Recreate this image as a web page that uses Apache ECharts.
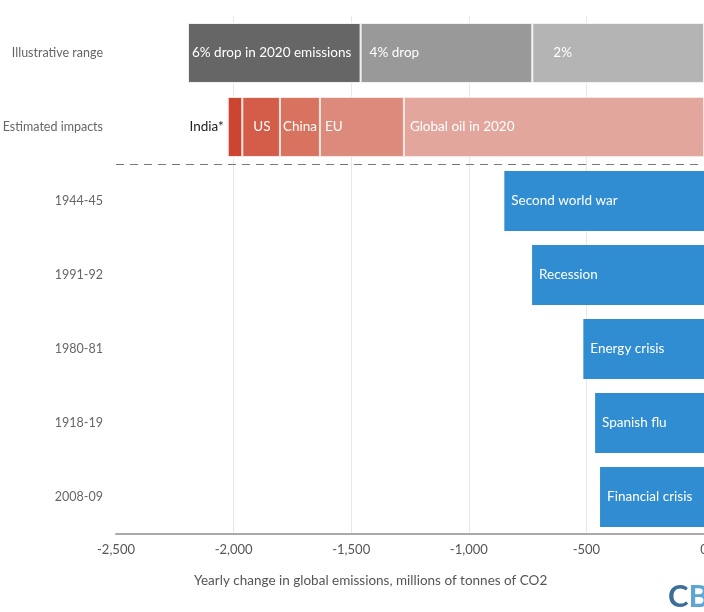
<!DOCTYPE html>
<html>
<head>
<meta charset="utf-8">
<script src="https://cdn.jsdelivr.net/npm/echarts@6/dist/echarts.min.js"></script>
<style>html,body{margin:0;padding:0;background:#fff}#c{width:704px;height:612px}</style>
</head>
<body>
<div id="c"></div>
<script>
// ---- data ----
var categories = ['Illustrative range', 'Estimated impacts', '1944-45', '1991-92', '1980-81', '1918-19', '2008-09'];
var rangeNames = ['2%', '4% drop', '6% drop in 2020 emissions'];
var rangeValues = [-730, -730, -734];            // stacked segments, Illustrative range row
var impactNames = ['Global oil in 2020', 'EU', 'China', 'US', 'India*'];
var impactValues = [-1276, -357, -170, -160, -62]; // stacked segments, Estimated impacts row
var eventNames = ['Second world war', 'Recession', 'Energy crisis', 'Spanish flu', 'Financial crisis'];
var eventValues = [-849, -731, -513, -463, -442];
var xTicks = [-2500, -2000, -1500, -1000, -500, 0];

// ---- styles ----
var FONT = "Lato, 'Open Sans', sans-serif";
var rangeColors = ['#b4b4b4', '#999999', '#666666'];
var rangeLabelDist = [21, 9, 4];
var impactColors = ['#e3a69c', '#dc8a7c', '#d8735f', '#d35d48', '#cc4530'];
var impactLabelDist = [6, 5, 3, 11, 0];
var blue = '#318dd1';
var LABEL_SIZE = 13.5;

function rowData(rowIndex, value) {
  return categories.map(function (c, i) { return i === rowIndex ? value : '-'; });
}

var series = [];
rangeValues.forEach(function (v, k) {
  series.push({
    type: 'bar', stack: 'main', name: rangeNames[k],
    data: rowData(0, v),
    barCategoryGap: '19%',
    itemStyle: { color: rangeColors[k], borderColor: '#f2f2f2', borderWidth: 1 },
    label: { show: true, position: 'insideLeft', distance: rangeLabelDist[k], formatter: rangeNames[k],
      color: '#fff', fontFamily: FONT, fontSize: LABEL_SIZE },
    emphasis: { disabled: true }
  });
});
impactValues.forEach(function (v, k) {
  var isIndia = impactNames[k] === 'India*';
  series.push({
    type: 'bar', stack: 'main', name: impactNames[k],
    data: rowData(1, v),
    barCategoryGap: '19%',
    itemStyle: { color: impactColors[k], borderColor: '#f6e6e2', borderWidth: 1 },
    label: isIndia ?
      { show: true, position: 'left', distance: 4, formatter: 'India*', color: '#222', fontFamily: FONT, fontSize: LABEL_SIZE } :
      { show: true, position: 'insideLeft', distance: impactLabelDist[k], formatter: impactNames[k],
        color: '#fff', fontFamily: FONT, fontSize: LABEL_SIZE },
    emphasis: { disabled: true }
  });
});
series.push({
  type: 'bar', stack: 'main', name: 'events',
  data: ['-', '-'].concat(eventValues),
  barCategoryGap: '19%',
  itemStyle: { color: blue },
  label: { show: true, position: 'insideLeft', distance: 7,
    formatter: function (p) { return eventNames[p.dataIndex - 2]; },
    color: '#fff', fontFamily: FONT, fontSize: LABEL_SIZE },
  emphasis: { disabled: true }
});

var chart = echarts.init(document.getElementById('c'), null, { renderer: 'canvas' });
chart.setOption({
  animation: false,
  backgroundColor: '#fff',
  grid: { left: 116, right: 0, top: 16, bottom: 78, containLabel: false, outerBoundsMode: 'none' },
  title: {
    text: 'Yearly change in global emissions, millions of tonnes of CO2',
    left: 189, top: 569,
    textStyle: { fontFamily: FONT, fontSize: 13.5, fontWeight: 'normal', color: '#555' }
  },
  xAxis: {
    type: 'value', min: xTicks[0], max: xTicks[xTicks.length - 1], interval: 500,
    axisLine: { show: true, lineStyle: { color: '#aaaaaa', width: 2 } },
    axisTick: { show: false },
    axisLabel: { color: '#555', fontFamily: FONT, fontSize: 13, margin: 9,
      formatter: function (v) { return v.toLocaleString('en-US'); } },
    splitLine: { show: true, showMinLine: false, showMaxLine: false, lineStyle: { color: '#e8e8e8', width: 1 } }
  },
  yAxis: {
    type: 'category', data: categories, inverse: true, offset: 9,
    axisLine: { show: true, lineStyle: { color: '#e2e2e2', width: 1 } },
    axisTick: { show: false },
    axisLabel: { color: '#666', fontFamily: FONT, fontSize: 12.5, margin: 4 },
    splitLine: { show: false }
  },
  graphic: [{
    type: 'text', right: -5, bottom: 0,
    style: { text: '{c|C}{b|B}', rich: {
      c: { fill: '#3d6d99', fontSize: 31, fontWeight: 'bold', fontFamily: FONT },
      b: { fill: '#5da5d5', fontSize: 31, fontWeight: 'bold', fontFamily: FONT }
    } }
  }],
  series: series
});

// dashed separator between the estimate rows and the historical rows, placed via the axes
var yA = chart.convertToPixel({ yAxisIndex: 0 }, categories[1]);
var yB = chart.convertToPixel({ yAxisIndex: 0 }, categories[2]);
var x0 = chart.convertToPixel({ xAxisIndex: 0 }, xTicks[0]);
var x1 = chart.convertToPixel({ xAxisIndex: 0 }, xTicks[xTicks.length - 1]);
var ySep = Math.round((yA + yB) / 2) + 0.5;
chart.setOption({
  graphic: [{}, {
    type: 'line', z: 10,
    shape: { x1: x0, y1: ySep, x2: x1, y2: ySep },
    style: { stroke: '#777', lineWidth: 1.2, lineDash: [8, 6] }
  }]
});
</script>
</body>
</html>
